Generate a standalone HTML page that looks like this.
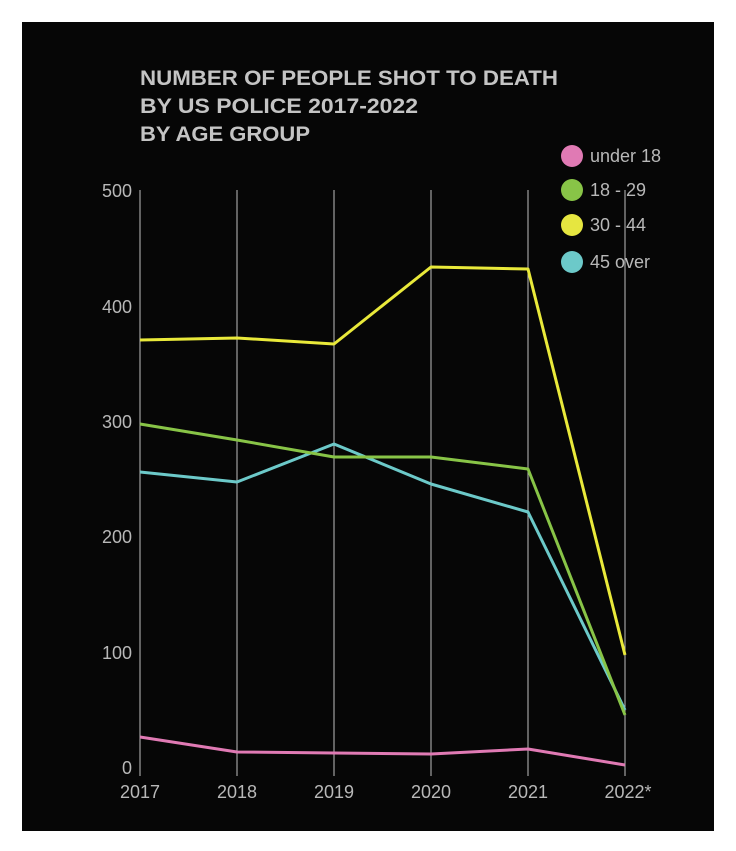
<!DOCTYPE html>
<html><head><meta charset="utf-8"><style>
html,body{margin:0;padding:0;background:#fff;}
svg{display:block;}
text{font-family:"Liberation Sans Narrow","Liberation Sans",sans-serif;}
</style></head><body>
<svg width="736" height="851" viewBox="0 0 736 851">
<rect x="22" y="22" width="692" height="809" fill="#060606"/>
<g fill="#c4c4c4" font-size="21" font-weight="bold">
<text x="140" y="85" textLength="418" lengthAdjust="spacingAndGlyphs">NUMBER OF PEOPLE SHOT TO DEATH</text>
<text x="140" y="113" textLength="278" lengthAdjust="spacingAndGlyphs">BY US POLICE 2017-2022</text>
<text x="140" y="141" textLength="170" lengthAdjust="spacingAndGlyphs">BY AGE GROUP</text>
</g>
<g stroke="#bdbdbd" stroke-width="1">
<line x1="140" y1="190" x2="140" y2="776"/>
<line x1="237" y1="190" x2="237" y2="776"/>
<line x1="334" y1="190" x2="334" y2="776"/>
<line x1="431" y1="190" x2="431" y2="776"/>
<line x1="528" y1="190" x2="528" y2="776"/>
<line x1="625" y1="190" x2="625" y2="776"/>
</g>
<g fill="#b8b8b8" font-size="18" text-anchor="end">
<text x="132" y="197">500</text>
<text x="132" y="313">400</text>
<text x="132" y="428">300</text>
<text x="132" y="543">200</text>
<text x="132" y="659">100</text>
<text x="132" y="774">0</text>
</g>
<g fill="#b8b8b8" font-size="18" text-anchor="middle">
<text x="140" y="798">2017</text>
<text x="237" y="798">2018</text>
<text x="334" y="798">2019</text>
<text x="431" y="798">2020</text>
<text x="528" y="798">2021</text>
<text x="628" y="798">2022*</text>
</g>
<g fill="none" stroke-width="3" stroke-linejoin="round">
<polyline stroke="#e9e93a" points="140,340 237,338 334,344 431,267 528,269 625,655"/>
<polyline stroke="#6cc9c9" points="140,472 237,482 334,444 431,484 528,512 625,710"/>
<polyline stroke="#88c447" points="140,424 237,440 334,457 431,457 528,469 625,715"/>
<polyline stroke="#e07ab4" points="140,737 237,752 334,753 431,754 528,749 625,765"/>
</g>
<circle cx="572" cy="156" r="11" fill="#e07ab4"/>
<circle cx="572" cy="190" r="11" fill="#88c447"/>
<circle cx="572" cy="225" r="11" fill="#e6e640"/>
<circle cx="572" cy="262" r="11" fill="#6cc9c9"/>
<g fill="#b8b8b8" font-size="18">
<text x="590" y="162">under 18</text>
<text x="590" y="196">18 - 29</text>
<text x="590" y="231">30 - 44</text>
<text x="590" y="268">45 over</text>
</g>
</svg>
</body></html>
